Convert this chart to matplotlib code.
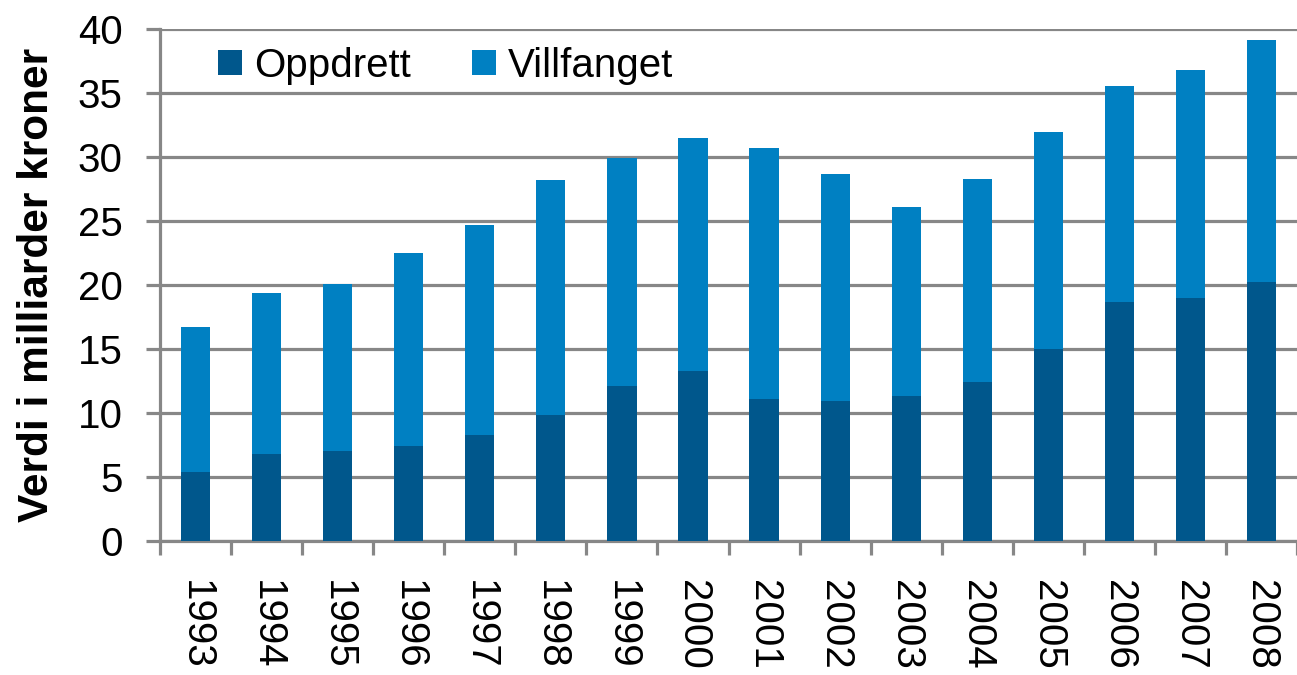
import numpy as np
import matplotlib
matplotlib.use("Agg")
import matplotlib.pyplot as plt

# verdi i milliarder kroner, lest av figuren
years = ['1993', '1994', '1995', '1996', '1997', '1998', '1999', '2000',
         '2001', '2002', '2003', '2004', '2005', '2006', '2007', '2008']
oppdrett = [5.4, 6.8, 7.05, 7.4, 8.25, 9.8, 12.1, 13.25,
            11.1, 10.95, 11.35, 12.45, 15.0, 18.65, 19.0, 20.25]
total = [16.7, 19.35, 20.05, 22.45, 24.65, 28.15, 29.9, 31.45,
         30.65, 28.65, 26.1, 28.25, 31.9, 35.55, 36.8, 39.15]
villfanget = [t - o for t, o in zip(total, oppdrett)]

dark = '#00578c'
light = '#0080c2'
grey = '#878787'

plt.rcParams['font.family'] = ['Liberation Sans', 'DejaVu Sans']

fig = plt.figure(figsize=(12.97, 6.75), dpi=100)
ax = fig.add_axes([0.1234, 0.1985, 0.8766, 0.759])

x = np.arange(len(years))
ax.bar(x, oppdrett, width=0.41, color=dark, label='Oppdrett', zorder=3)
ax.bar(x, villfanget, width=0.41, bottom=oppdrett, color=light,
       label='Villfanget', zorder=3)

ax.set_xlim(-0.5, len(years) - 0.5)
ax.set_ylim(0, 40)
ax.set_yticks(np.arange(0, 41, 5))
ax.yaxis.grid(True, color=grey, linewidth=2.3)
ax.set_axisbelow(True)

ax.set_xticks(x)
ax.set_xticklabels(years, rotation=270, fontsize=29)
ax.set_xticks(np.arange(-0.5, len(years), 1), minor=True)
ax.tick_params(axis='x', which='major', length=0, pad=28)
ax.tick_params(axis='x', which='minor', length=10, width=2.3, color=grey)
ax.tick_params(axis='y', length=10, width=2.3, color=grey, labelsize=29, pad=17)

for s in ['top', 'right']:
    ax.spines[s].set_visible(False)
for s in ['left', 'bottom']:
    ax.spines[s].set_color(grey)
    ax.spines[s].set_linewidth(2.3)

ax.set_ylabel('Verdi i milliarder kroner', fontsize=30.5, fontweight='bold',
              labelpad=15)

ax.legend(loc='upper left', bbox_to_anchor=(0.03, 1.012), ncol=2, frameon=False,
          fontsize=29, handlelength=0.6, handleheight=0.6, handletextpad=0.3,
          columnspacing=1.5, borderaxespad=0.2)

fig.savefig('out.png', dpi=100)
